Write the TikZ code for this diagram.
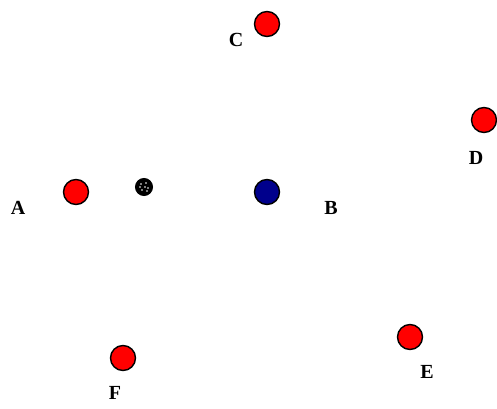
\documentclass[tikz,border=0pt]{standalone}
\usepackage{fontspec}
\setmainfont{Liberation Serif}
\usetikzlibrary{patterns}

\begin{document}
\begin{tikzpicture}[x=1pt, y=1pt,
  site/.style={circle, draw=black, line width=1.4pt, fill=red, minimum size=25pt, inner sep=0pt},
  hub/.style={site, fill=blue!55!black},
  probe/.style={circle, draw=black, fill=black, line width=1pt, minimum size=17pt, inner sep=0pt},
  lab/.style={font=\bfseries\fontsize{20}{22}\selectfont, inner sep=0pt}]
\useasboundingbox (0,0) rectangle (497,408);
% sites
\node[site] (c) at (267,384) {};
\node[site] (d) at (484,288) {};
\node[site] (a) at (76,216) {};
\node[hub] (b) at (267,216) {};
\node[site] (e) at (410,71) {};
\node[site] (f) at (123,50) {};
\node[probe] (p) at (144,221) {};
% speckles on the probe
\foreach \dx/\dy in {-3/3, 2/4, 4/-1, -2/-3, 1/0, -4/0, 3/-4}
  \fill[white] ([shift={(\dx,\dy)}]p.center) circle (0.9);
% labels
\node[lab] (lc) at (236,368) {C};
\node[lab] (ld) at (476,250) {D};
\node[lab] (la) at (18,200) {A};
\node[lab] (lb) at (331,200) {B};
\node[lab] (le) at (427,36) {E};
\node[lab] (lf) at (115,15) {F};
\end{tikzpicture}
\end{document}
